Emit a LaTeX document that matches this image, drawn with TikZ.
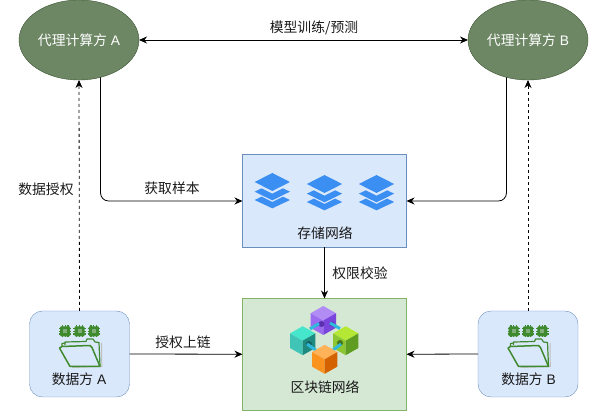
\documentclass[tikz,border=0pt]{standalone}
\usepackage{fontspec}
\setmainfont{Liberation Sans}
\newfontfamily\cjk{Noto Sans CJK SC}
\usetikzlibrary{arrows.meta,shapes.geometric,calc}
\definecolor{ellfill}{HTML}{6D8764}
\definecolor{elldraw}{HTML}{3A5431}
\definecolor{bluefill}{HTML}{DAE8FC}
\definecolor{bluedraw}{HTML}{6C8EBF}
\definecolor{greenfill}{HTML}{D5E8D4}
\definecolor{greendraw}{HTML}{82B366}
\definecolor{layerblue}{HTML}{3B8FF3}
\definecolor{foldergreen}{HTML}{3F8A2E}
\definecolor{chipmid}{HTML}{7FAE78}
\definecolor{linkblue}{HTML}{2FB9DC}
\definecolor{pa}{HTML}{B28CF5}\definecolor{pb}{HTML}{9B6CF0}\definecolor{pc}{HTML}{7A45DC}
\definecolor{ta}{HTML}{45E6CC}\definecolor{tb}{HTML}{3FC4B5}\definecolor{tc}{HTML}{1F8A80}
\definecolor{ga}{HTML}{B5E835}\definecolor{gb}{HTML}{8CC630}\definecolor{gc}{HTML}{5F9C22}
\definecolor{oa}{HTML}{FFB257}\definecolor{ob}{HTML}{FB931F}\definecolor{oc}{HTML}{D56200}
\definecolor{holep}{HTML}{5A2FB0}\definecolor{holet}{HTML}{14635C}\definecolor{holeg}{HTML}{46761A}
\newcommand{\mycube}[5]{%
  \begin{scope}[shift={(#1,#2)}]
    \fill[#3] (0,-14.5) -- (12.7,-7.3) -- (0,0) -- (-12.7,-7.3) -- cycle;
    \fill[#4] (-12.7,-7.3) -- (0,0) -- (0,14.5) -- (-12.7,7.3) -- cycle;
    \fill[#5] (12.7,-7.3) -- (0,0) -- (0,14.5) -- (12.7,7.3) -- cycle;
  \end{scope}}
\newcommand{\mystack}[2]{%
  \begin{scope}[shift={(#1,#2)},x=0.3333pt,y=-0.3333pt]
    \fill[layerblue] (-53,-27) -- (0,0) -- (53,-27) -- (0,-54) -- cycle;
    \fill[layerblue] (-53,2) -- (-32,-8) -- (0,8) -- (32,-8) -- (53,2) -- (0,28) -- cycle;
    \fill[layerblue] (-53,27) -- (-32,17) -- (0,33) -- (32,17) -- (53,27) -- (0,52) -- cycle;
  \end{scope}}
\newcommand{\mychip}[2]{%
  \begin{scope}[shift={(#1,#2)}]
    \fill[foldergreen,rounded corners=1pt] (-5,-5) rectangle (5,5);
    \draw[foldergreen,line width=1.3pt] (-6.2,-2.8) -- (6.2,-2.8) (-6.2,0) -- (6.2,0) (-6.2,2.8) -- (6.2,2.8) (-2.8,-6.2) -- (-2.8,6.2) (0,-6.2) -- (0,6.2) (2.8,-6.2) -- (2.8,6.2);
    \fill[chipmid] (-2,-2) rectangle (2,2);
  \end{scope}}
\newcommand{\myfolder}[2]{%
  \begin{scope}[shift={(#1,#2)}]
    \mychip{65.2}{331.3}\mychip{79.5}{331.3}\mychip{93.8}{331.3}
    \draw[black!25,line width=1pt] (101.5,343) -- (101.8,366.5) -- (72,367.5);
    \draw[foldergreen,line width=1.2pt,line join=round,fill=bluefill] (65,345) -- (65,342) -- (86,341.5) -- (87,339) -- (93,339) -- (95,342) -- (99,342.5) -- (100,366);
    \draw[foldergreen,line width=1.2pt,line join=round] (62,347) -- (62,343.5) -- (65,343);
    \draw[foldergreen,line width=1.5pt,line join=round,fill=bluefill] (59.5,348) -- (62,346.5) -- (90,345.5) -- (92,347.5) -- (100,366.5) -- (70,366.5) -- cycle;
  \end{scope}}
\tikzset{
  lbl/.style={font=\fontsize{13.8}{14}\selectfont\cjk,inner sep=0pt,text=black!90},
  ltn/.style={font=\fontsize{13.8}{14}\selectfont,inner sep=0pt,text=black!90},
  ell/.style={ellipse,draw=elldraw,fill=ellfill,minimum width=120pt,minimum height=80pt,inner sep=0pt,outer sep=0pt,text=white,font=\fontsize{13.8}{14}\selectfont},
  bluebox/.style={rectangle,draw=bluedraw,fill=bluefill,outer sep=0pt,inner sep=0pt},
  greenbox/.style={rectangle,draw=greendraw,fill=greenfill,outer sep=0pt,inner sep=0pt},
  datanode/.style={bluebox,rounded corners=13pt,minimum width=100pt,minimum height=86pt},
  arr/.style={-{Stealth[length=8pt,width=7pt]},line width=0.8pt,black},
  darr/.style={arr,dash pattern=on 3pt off 3pt},
  boxarr/.style={{Stealth[length=8pt,width=7pt]}-{Stealth[length=8pt,width=7pt]},line width=0.8pt,black},
  lnk/.style={linkblue,line width=3pt}
}
\begin{document}
\begin{tikzpicture}[x=1pt,y=-1pt]
\useasboundingbox (0,0) rectangle (589,411);
\node[ell] (A) at (79,40) {{\cjk 代理计算方} A};
\node[ell] (B) at (528,40) {{\cjk 代理计算方} B};
\node[bluebox,minimum width=164pt,minimum height=93pt] (store) at (324.5,201) {};
\node[greenbox,minimum width=164pt,minimum height=111.5pt] (chain) at (324.5,354.25) {};
\node[datanode] (dA) at (79.5,354) {};
\node[datanode] (dB) at (528,354) {};
% arrows
\draw[boxarr] (A.east) -- (B.west);
\draw[darr] (dA.north) -- (A.south);
\draw[darr] (dB.north) -- (B.south);
\draw[arr,rounded corners=8pt] (A.-60) |- (store.west);
\draw[arr,rounded corners=8pt] (B.240) |- (store.east);
\draw[arr] (store.south) -- (chain.north);
\draw[arr] (dA.east) -- (chain.west);
\draw[arr] (dB.west) -- (chain.east);
% labels
\node[lbl] (t1) at (314,28) {模型训练/预测};
\node[lbl] (t2) at (172,188) {获取样本};
\node[lbl] (t3) at (46,189) {数据授权};
\node[lbl] (t4) at (360,273) {权限校验};
\node[lbl] (t5) at (183,342) {授权上链};
\node[lbl] (t6) at (325,233) {存储网络};
\node[lbl] (t7) at (325,387) {区块链网络};
\node[ltn] (t8) at (79,379) {{\cjk 数据方} A};
\node[ltn] (t9) at (528.5,379) {{\cjk 数据方} B};
% stacks
\mystack{272.3}{191}\mystack{324.5}{193}\mystack{376.5}{193}
% cubes
\mycube{323.3}{320.5}{pa}{pb}{pc}
\mycube{302.7}{340.7}{ta}{tb}{tc}
\mycube{345.7}{340.7}{ga}{gb}{gc}
\fill[holep] (321.5,324) circle (3pt) (332,324) circle (2.6pt);
\fill[holet] (309,344) circle (3pt);
\fill[holeg] (340,343) circle (3pt);
\draw[lnk] (310,329) -- (319,323.5);
\draw[lnk] (330,323) -- (340,328.5);
\draw[lnk] (307,344) -- (317,351);
\draw[lnk] (333,350) -- (341,344);
\mycube{324.7}{359.3}{oa}{ob}{oc}
% folders
\myfolder{0}{0}
\myfolder{448.5}{0}
\end{tikzpicture}
\end{document}
